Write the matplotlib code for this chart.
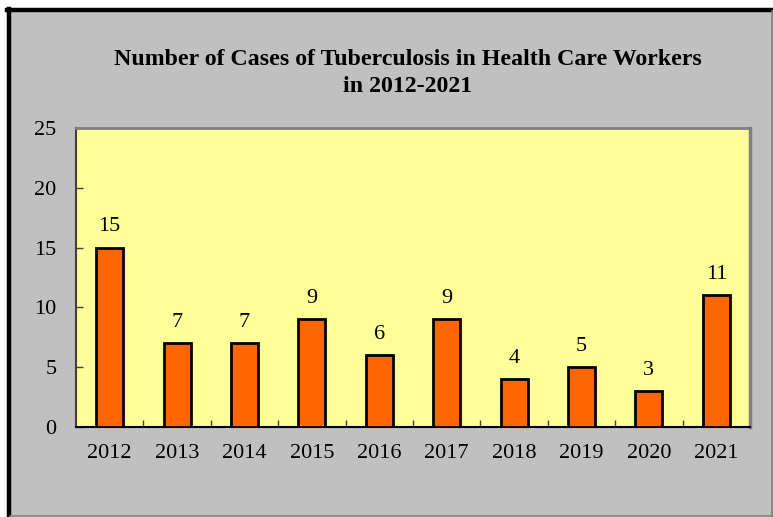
import matplotlib
matplotlib.use("Agg")
import matplotlib.pyplot as plt
from matplotlib.patches import Rectangle
from matplotlib.lines import Line2D
import numpy as np

years = ["2012", "2013", "2014", "2015", "2016", "2017", "2018", "2019", "2020", "2021"]
cases = [15, 7, 7, 9, 6, 9, 4, 5, 3, 11]
yticks = [0, 5, 10, 15, 20, 25]
title = "Number of Cases of Tuberculosis in Health Care Workers\nin 2012-2021"

plt.rcParams['font.family'] = ['Liberation Serif', 'DejaVu Serif']

W, H = 773, 517
fig = plt.figure(figsize=(W / 100, H / 100), dpi=100)
fig.patch.set_facecolor('white')

def fx(px):
    return px / W

def fy(py):
    return 1 - py / H

# chart area background with bevelled border
fig.patches.append(Rectangle((fx(8), fy(516)), fx(773) - fx(8), fy(9) - fy(516),
                             transform=fig.transFigure, facecolor='#C0C0C0', edgecolor='none', zorder=-3))
fig.lines.append(Line2D([fx(9), fx(9)], [fy(517), fy(8.5)], transform=fig.transFigure, color='black', lw=3.2, zorder=-2))
fig.lines.append(Line2D([fx(7.5), fx(773)], [fy(10), fy(10)], transform=fig.transFigure, color='black', lw=3.2, zorder=-2))
fig.lines.append(Line2D([fx(771.5), fx(771.5)], [fy(516), fy(11)], transform=fig.transFigure, color='#808080', lw=1.2, zorder=-2))
fig.lines.append(Line2D([fx(10), fx(773)], [fy(515.5), fy(515.5)], transform=fig.transFigure, color='#808080', lw=1.2, zorder=-2))

ax = fig.add_axes([fx(76), fy(427), fx(750) - fx(76), fy(128) - fy(427)])
ax.set_zorder(1)
ax.set_facecolor('#FFFF99')
x = np.arange(len(years))
bars = ax.bar(x, cases, width=0.4, color='#FF6600', edgecolor='black', linewidth=2, zorder=3)
for xi, v in zip(x, cases):
    ax.annotate(str(v), (xi, v), xytext=(0, 8), textcoords='offset points',
                ha='center', va='bottom', fontsize=16, color='black')

ax.set_xlim(-0.5, len(years) - 0.5)
ax.set_ylim(0, 25)
ax.set_yticks(yticks)
ax.set_yticklabels([str(t) for t in yticks], fontsize=16)
ax.set_xticks(x)
ax.set_xticklabels(years, fontsize=16)
ax.tick_params(axis='x', which='major', length=0, pad=12)
ax.set_xticks(np.arange(0.5, len(years) - 0.5, 1), minor=True)
ax.tick_params(axis='x', which='minor', direction='in', length=5, width=1, color='#404040')
ax.tick_params(axis='y', direction='in', length=5, width=1, color='#404040', pad=14)

ax.spines['left'].set_color('#404040')
ax.spines['left'].set_linewidth(1.5)
ax.spines['bottom'].set_color('black')
ax.spines['bottom'].set_linewidth(1.5)
ax.spines['top'].set_color('#808080')
ax.spines['top'].set_linewidth(2)
ax.spines['right'].set_color('#808080')
ax.spines['right'].set_linewidth(2.5)

fig.text(fx(408), fy(73), title, ha='center', va='center', fontsize=17.2,
         fontweight='bold', linespacing=1.4, zorder=2)

fig.savefig('out.png', dpi=100, facecolor=fig.get_facecolor())
